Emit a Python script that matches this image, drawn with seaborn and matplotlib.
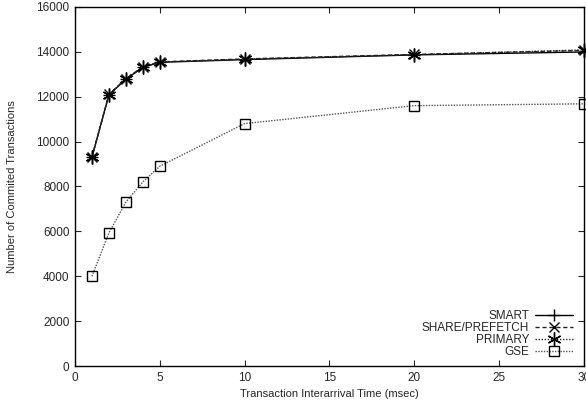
import matplotlib
matplotlib.use("Agg")
import matplotlib.pyplot as plt
import seaborn as sns
import pandas as pd

x_vals = [1, 2, 3, 4, 5, 10, 20, 30]
smart = [9300, 12080, 12780, 13300, 13530, 13650, 13860, 13990]
share_prefetch = [9320, 12100, 12800, 13330, 13550, 13680, 13880, 14060]
primary = [9310, 12090, 12790, 13320, 13540, 13670, 13870, 14080]
gse = [4000, 5930, 7300, 8200, 8900, 10800, 11600, 11680]

series_names = ["SMART", "SHARE/PREFETCH", "PRIMARY", "GSE"]
x_ticks = [0, 5, 10, 15, 20, 25, 30]
y_ticks = [0, 2000, 4000, 6000, 8000, 10000, 12000, 14000, 16000]

sns.set_style("ticks")
plt.rcParams["font.family"] = ["Liberation Sans", "DejaVu Sans"]

fig = plt.figure(figsize=(5.86, 4.04), dpi=100)
ax = fig.add_axes([0.128, 0.094, 0.868, 0.889])

styles = {
    "SMART": dict(color="black", linestyle="-", marker="+", ms=9, mfc="none"),
    "SHARE/PREFETCH": dict(color="#222222", linestyle=(0, (3, 2)), marker="x", ms=7, mfc="none"),
    "PRIMARY": dict(color="#222222", linestyle=(0, (1, 1.2)), marker=(6, 2, 0), ms=10, mfc="none"),
    "GSE": dict(color="#555555", linestyle=(0, (1, 1)), marker="s", ms=7, mfc="none", mec="black"),
}
data = {"SMART": smart, "SHARE/PREFETCH": share_prefetch, "PRIMARY": primary, "GSE": gse}

for name in series_names:
    df = pd.DataFrame({"x": x_vals, "y": data[name]})
    st = styles[name]
    sns.lineplot(data=df, x="x", y="y", ax=ax, label=name,
                 color=st["color"], linestyle=st["linestyle"], marker=st["marker"],
                 markersize=st["ms"], markerfacecolor=st["mfc"],
                 markeredgecolor=st.get("mec", "black"), markeredgewidth=1.0,
                 linewidth=1.0, clip_on=False)

ax.set_xlim(0, 30)
ax.set_ylim(0, 16000)
ax.set_xticks(x_ticks)
ax.set_yticks(y_ticks)
ax.tick_params(direction="in", top=True, right=True, labelsize=8.5, length=4, width=0.8, pad=4)
for sp in ax.spines.values():
    sp.set_linewidth(1.0)
    sp.set_color("black")
ax.set_xlabel("Transaction Interarrival Time (msec)", fontsize=8)
ax.set_ylabel("Number of Commited Transactions", fontsize=8, labelpad=14)

leg = ax.legend(loc="lower right", markerfirst=False, frameon=False, fontsize=8.5,
                handlelength=3.2, labelspacing=0.0, borderaxespad=0.3, handletextpad=0.5,
                bbox_to_anchor=(0.995, 0.0))

fig.savefig("out.png", dpi=100)
